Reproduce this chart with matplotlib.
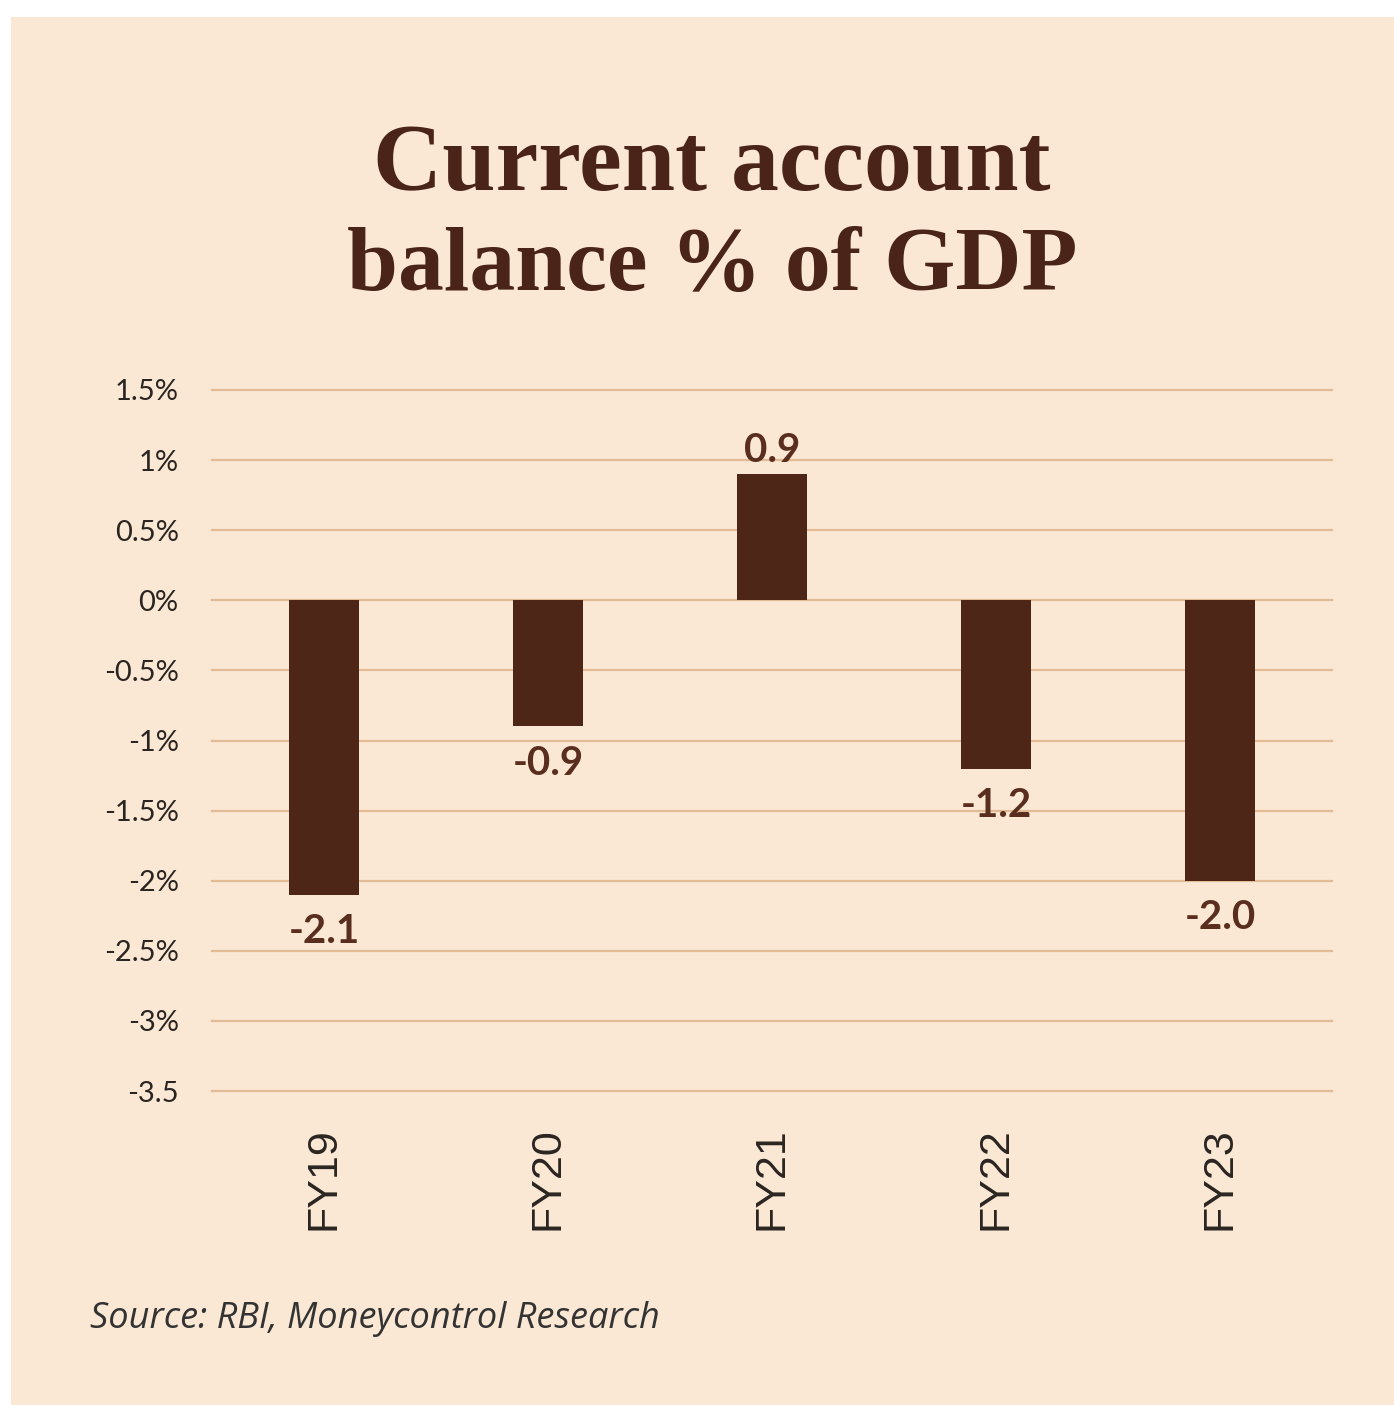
import matplotlib.pyplot as plt
from matplotlib.patches import Rectangle

years = ['FY19', 'FY20', 'FY21', 'FY22', 'FY23']
balance = [-2.1, -0.9, 0.9, -1.2, -2.0]
ticks = [1.5, 1, 0.5, 0, -0.5, -1, -1.5, -2, -2.5, -3, -3.5]
tick_labels = ['1.5%', '1%', '0.5%', '0%', '-0.5%', '-1%', '-1.5%',
               '-2%', '-2.5%', '-3%', '-3.5']

bg = '#FAE8D4'
bar_col = '#4E2617'
grid_col = '#E2BB95'

W, H = 1394, 1405
fig = plt.figure(figsize=(W / 100, H / 100), dpi=100)
fig.patch.set_facecolor('white')
fig.patches.append(Rectangle((11 / W, 0), 1, 1 - 17 / H, transform=fig.transFigure,
                             facecolor=bg, edgecolor='none', zorder=-10))

ax = fig.add_axes([212 / W, 1 - 1091 / H, 1120 / W, 701 / H])
ax.set_facecolor(bg)
ax.patch.set_alpha(0)

x = list(range(len(years)))
ax.bar(x, balance, width=0.31, color=bar_col, zorder=3)

for t in ticks:
    ax.axhline(t, color=grid_col, lw=1.6, zorder=1, clip_on=False)

for xi, v in zip(x, balance):
    if v >= 0:
        ax.text(xi, v + 0.04, '%.1f' % v, ha='center', va='bottom',
                fontsize=29, fontweight='bold', family='Lato', color='#5A2E1E')
    else:
        ax.text(xi, v - 0.13, '%.1f' % v, ha='center', va='top',
                fontsize=29, fontweight='bold', family='Lato', color='#5A2E1E')

ax.set_xlim(-0.5, 4.5)
ax.set_ylim(-3.5, 1.5)
ax.set_yticks(ticks)
ax.set_yticklabels(tick_labels, family='Lato', fontsize=21, color='#2B2522')
ax.set_xticks(x)
ax.set_xticklabels(years, rotation=90, family='Liberation Sans', fontsize=31,
                   color='#2B2522')
ax.tick_params(axis='y', length=0, pad=24)
ax.tick_params(axis='x', length=0, pad=26)
for s in ax.spines.values():
    s.set_visible(False)

title_col = '#4A2418'
fig.text(712 / W, 1 - 190 / H, 'Current account', ha='center', va='baseline',
         family='Liberation Serif', fontweight='bold', fontsize=69, color=title_col)
fig.text(712 / W, 1 - 290 / H, 'balance % of GDP', ha='center', va='baseline',
         family='Liberation Serif', fontweight='bold', fontsize=66, color=title_col)

fig.text(90 / W, 1 - 1328 / H, 'Source: RBI, Moneycontrol Research', ha='left',
         va='baseline', family='Open Sans', style='italic', fontsize=26,
         color='#333333')

plt.savefig('out.png', dpi=100, facecolor=fig.get_facecolor())
